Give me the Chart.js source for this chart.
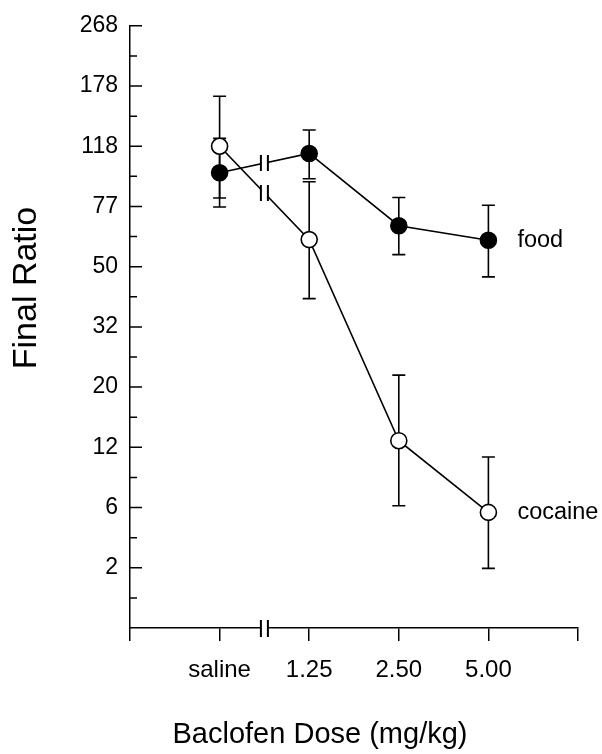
<!DOCTYPE html>
<html><head><meta charset="utf-8">
<script src="https://cdn.jsdelivr.net/npm/chart.js@4"></script>
<style>html,body{margin:0;padding:0;background:#fff;} #wrap{width:602px;height:754px;position:relative;}</style>
</head><body><div id="wrap"><canvas id="c"></canvas></div>
<script>
// Categories (x) and y tick labels (progressive-ratio steps, evenly spaced)
const doses = ['saline', '1.25', '2.50', '5.00'];
const ratioTickLabels = ['2', '6', '12', '20', '32', '50', '77', '118', '178', '268'];
// Values expressed in y-axis step units (1 unit = one labelled ratio step)
const foodMean     = [7.56, 7.88, 6.68, 6.44];
const foodUpper    = [8.13, 8.27, 7.15, 7.02];
const foodLower    = [6.99, 7.46, 6.20, 5.83];
const cocaineMean  = [8.00, 6.45, 3.11, 1.92];
const cocaineUpper = [8.83, 7.41, 4.20, 2.84];
const cocaineLower = [7.14, 5.47, 2.03, 0.99];
const seriesNames = ['cocaine', 'food'];
const xTitle = 'Baclofen Dose (mg/kg)';
const yTitle = 'Final Ratio';
const axisBreakAt = 1.5;

const FONT = "'Liberation Sans', Arial, Helvetica, sans-serif";
Chart.defaults.font.family = FONT;
Chart.defaults.color = '#000';

function pts(vals) { return vals.map((v, i) => ({ x: i + 1, y: v })); }

const errors = [
  { upper: cocaineUpper, lower: cocaineLower },
  { upper: foodUpper, lower: foodLower }
];

const decorPlugin = {
  id: 'decor',
  beforeDraw(chart) {
    const ctx = chart.ctx;
    ctx.save(); ctx.fillStyle = '#fff'; ctx.fillRect(0, 0, chart.width, chart.height); ctx.restore();
  },
  beforeDatasetsDraw(chart) {
    const ctx = chart.ctx, xs = chart.scales.x, ys = chart.scales.y;
    ctx.save();
    ctx.strokeStyle = '#000'; ctx.lineWidth = 1.6;
    errors.forEach(e => {
      e.upper.forEach((u, j) => {
        const x = xs.getPixelForValue(j + 1);
        const y1 = ys.getPixelForValue(u), y2 = ys.getPixelForValue(e.lower[j]);
        ctx.beginPath();
        ctx.moveTo(x, y1); ctx.lineTo(x, y2);
        ctx.moveTo(x - 6.5, y1); ctx.lineTo(x + 6.5, y1);
        ctx.moveTo(x - 6.5, y2); ctx.lineTo(x + 6.5, y2);
        ctx.stroke();
      });
    });
    ctx.restore();
  },
  afterDatasetsDraw(chart) {
    const ctx = chart.ctx, xs = chart.scales.x;
    const xb = xs.getPixelForValue(axisBreakAt);
    ctx.save();
    chart.data.datasets.forEach((ds, i) => {
      const meta = chart.getDatasetMeta(i);
      const p0 = meta.data[0], p1 = meta.data[1];
      const yb = p0.y + (p1.y - p0.y) * (xb - p0.x) / (p1.x - p0.x);
      ctx.fillStyle = '#fff';
      ctx.fillRect(xb - 3, yb - 5, 6, 10);
      ctx.strokeStyle = '#000'; ctx.lineWidth = 2;
      ctx.beginPath();
      ctx.moveTo(xb - 3.5, yb - 8); ctx.lineTo(xb - 3.5, yb + 8);
      ctx.moveTo(xb + 3.5, yb - 8); ctx.lineTo(xb + 3.5, yb + 8);
      ctx.stroke();
      const last = meta.data[meta.data.length - 1];
      ctx.fillStyle = '#000';
      ctx.font = '23.5px ' + FONT;
      ctx.textAlign = 'left'; ctx.textBaseline = 'middle';
      ctx.fillText(ds.label, last.x + 29, last.y);
    });
    ctx.restore();
  },
  afterDraw(chart) {
    const ctx = chart.ctx, xs = chart.scales.x, ys = chart.scales.y, ca = chart.chartArea;
    ctx.save();
    ctx.strokeStyle = '#000'; ctx.lineWidth = 1.5;
    // inward y ticks
    ctx.beginPath();
    for (let v = 0.5; v <= 10.001; v += 0.5) {
      const y = ys.getPixelForValue(v);
      const len = Number.isInteger(v) ? 12 : 7;
      ctx.moveTo(ca.left, y); ctx.lineTo(ca.left + len, y);
    }
    ctx.stroke();
    // x axis break
    const xb = xs.getPixelForValue(axisBreakAt);
    ctx.fillStyle = '#fff';
    ctx.fillRect(xb - 3, ca.bottom - 3, 6, 6);
    ctx.lineWidth = 2;
    ctx.beginPath();
    ctx.moveTo(xb - 3.5, ca.bottom - 8); ctx.lineTo(xb - 3.5, ca.bottom + 9);
    ctx.moveTo(xb + 3.5, ca.bottom - 8); ctx.lineTo(xb + 3.5, ca.bottom + 9);
    ctx.stroke();
    // axis titles
    ctx.fillStyle = '#000';
    ctx.textAlign = 'center'; ctx.textBaseline = 'middle';
    ctx.font = '29px ' + FONT;
    ctx.fillText(xTitle, 320, 735);
    ctx.translate(27, 288);
    ctx.rotate(-Math.PI / 2);
    ctx.font = '34px ' + FONT;
    ctx.fillText(yTitle, 0, 0);
    ctx.restore();
  }
};

new Chart(document.getElementById('c'), {
  type: 'line',
  data: {
    datasets: [
      { label: seriesNames[0], data: pts(cocaineMean), borderColor: '#000', borderWidth: 1.6,
        pointRadius: 8, pointBorderWidth: 1.6, pointBackgroundColor: '#fff', pointBorderColor: '#000', tension: 0 },
      { label: seriesNames[1], data: pts(foodMean), borderColor: '#000', borderWidth: 1.6,
        pointRadius: 8, pointBorderWidth: 1.6, pointBackgroundColor: '#000', pointBorderColor: '#000', tension: 0 }
    ]
  },
  options: {
    responsive: true, maintainAspectRatio: false, animation: false,
    layout: { padding: { top: 24, right: 24, left: 0, bottom: 0 } },
    plugins: { legend: { display: false }, tooltip: { enabled: false } },
    scales: {
      x: {
        type: 'linear', min: 0, max: 5,
        afterFit: s => { s.height = 126; },
        ticks: { stepSize: 1, autoSkip: false, maxRotation: 0, padding: 15,
                 font: { size: 24 }, callback: v => doses[v - 1] || '' },
        grid: { drawOnChartArea: false, drawTicks: true, tickLength: 13, color: '#000', lineWidth: 1.5 },
        border: { display: true, color: '#000', width: 1.5 }
      },
      y: {
        type: 'linear', min: 0, max: 10,
        afterFit: s => { s.width = 130; },
        ticks: { stepSize: 1, autoSkip: false, padding: 12, font: { size: 23 },
                 callback: v => (v >= 1 ? ratioTickLabels[v - 1] : '') },
        grid: { display: false, drawTicks: false },
        border: { display: true, color: '#000', width: 1.5 }
      }
    }
  },
  plugins: [decorPlugin]
});
</script>
</body></html>
